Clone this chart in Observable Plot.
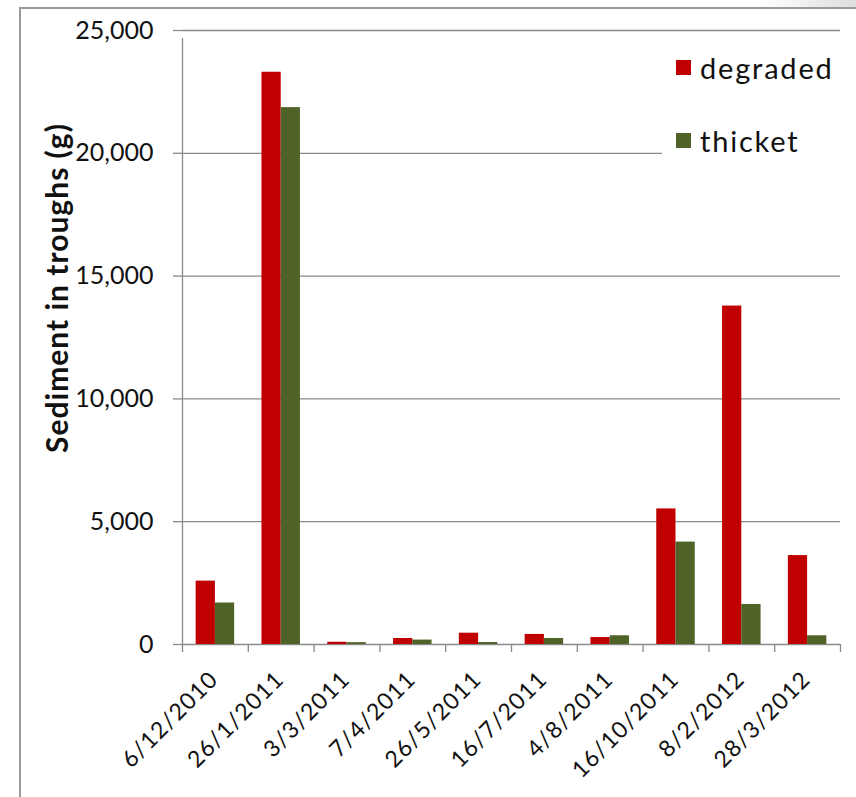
<!DOCTYPE html>
<html>
<head>
<meta charset="utf-8">
<script src="https://cdn.jsdelivr.net/npm/d3@7"></script>
<script src="https://cdn.jsdelivr.net/npm/@observablehq/plot@0.6"></script>
<style>
  html, body { margin: 0; padding: 0; background: #fff; }
  #wrap { position: relative; width: 856px; height: 797px; overflow: hidden; font-family: Lato, "Open Sans", sans-serif; color: #111; }
  #wrap svg { position: absolute; left: 0; top: 0; background: transparent; }
  .border { position: absolute; left: 19px; top: 7px; right: -10px; bottom: -10px; border-left: 2px solid #9a9a9a; border-top: 2px solid #9a9a9a; pointer-events: none; }
  .shade { position: absolute; left: 760px; top: 0; width: 96px; height: 7px; background: linear-gradient(to right, rgba(200,200,200,0), rgba(200,200,200,0.6)); }
  .legend { position: absolute; left: 662px; top: 42px; width: 178px; height: 128px; background: #fff; }
  .legend .item { position: absolute; left: 14px; display: flex; align-items: center; font-size: 29px; letter-spacing: 1.8px; line-height: 1; }
  .legend .sw { width: 15px; height: 15px; margin-right: 9px; }
  .ytitle { position: absolute; left: 56px; top: 288px; transform: translate(-50%, -50%) rotate(-90deg); font-weight: 700; font-size: 30px; letter-spacing: 1px; white-space: nowrap; }
</style>
</head>
<body>
<div id="wrap"></div>
<script>
// Sediment collected in troughs on each sampling date (grams)
const categories = ["6/12/2010", "26/1/2011", "3/3/2011", "7/4/2011", "26/5/2011", "16/7/2011", "4/8/2011", "16/10/2011", "8/2/2012", "28/3/2012"];
const degraded = [2580, 23300, 90, 245, 460, 410, 285, 5520, 13780, 3620];
const thicket = [1690, 21860, 75, 180, 80, 245, 355, 4170, 1630, 355];
const seriesNames = ["degraded", "thicket"];
const seriesColors = ["#c00000", "#4f6228"];
const yTicks = [0, 5000, 10000, 15000, 20000, 25000];

const W = 856, H = 797;
const mLeft = 182, mRight = 16, mTop = 30, mBottom = 153;
const step = (W - mLeft - mRight) / categories.length;
const padInner = 0.415;
const half = step * (1 - padInner) / 2;

const rowsDegraded = categories.map((c, i) => ({date: c, value: degraded[i]}));
const rowsThicket = categories.map((c, i) => ({date: c, value: thicket[i]}));
const fmt = d3.format(",");
const grey = "#8a8a8a";

const chart = Plot.plot({
  width: W,
  height: H,
  marginLeft: mLeft,
  marginRight: mRight,
  marginTop: mTop,
  marginBottom: mBottom,
  style: {fontFamily: "Lato, 'Open Sans', sans-serif", color: "#111", background: "transparent"},
  x: {type: "band", domain: categories, paddingInner: padInner, paddingOuter: padInner / 2, round: false},
  y: {domain: [0, 25000]},
  marks: [
    // horizontal gridlines
    Plot.ruleY(yTicks, {stroke: grey, strokeWidth: 1.3}),
    // bars: degraded on the left half of each group, thicket on the right
    Plot.barY(rowsDegraded, {x: "date", y: "value", fill: seriesColors[0], insetRight: half}),
    Plot.barY(rowsThicket, {x: "date", y: "value", fill: seriesColors[1], insetLeft: half}),
    // category boundary ticks below the baseline
    Plot.ruleX(categories, {x: d => d, y1: 0, y2: 0, insetBottom: -8, dx: -step / 2, stroke: grey, strokeWidth: 1.3}),
    Plot.ruleX(categories.slice(-1), {x: d => d, y1: 0, y2: 0, insetBottom: -8, dx: step / 2, stroke: grey, strokeWidth: 1.3}),
    // vertical value axis line
    Plot.ruleX(categories.slice(0, 1), {x: d => d, y1: 0, y2: 25000, insetBottom: -8, dx: -step / 2, stroke: grey, strokeWidth: 1.3}),
    Plot.axisY(yTicks, {tickFormat: fmt, tickSize: 9, tickPadding: 20, stroke: grey, strokeWidth: 1.3, fontSize: 25, label: null}),
    Plot.axisX({tickRotate: -45, tickSize: 0, tickPadding: 14, fontSize: 23, dx: -1, dy: 17, label: null})
  ]
});

// wider tracking for the rotated date labels
d3.select(chart).selectAll('g[aria-label="x-axis tick label"] text').style("letter-spacing", "1.2px");

const wrap = document.getElementById("wrap");
wrap.appendChild(chart);

const shade = document.createElement("div");
shade.className = "shade";
wrap.appendChild(shade);
const border = document.createElement("div");
border.className = "border";
wrap.appendChild(border);

const title = document.createElement("div");
title.className = "ytitle";
title.textContent = "Sediment in troughs (g)";
wrap.appendChild(title);

const legend = document.createElement("div");
legend.className = "legend";
seriesNames.forEach((name, i) => {
  const item = document.createElement("div");
  item.className = "item";
  item.style.top = (11 + i * 73) + "px";
  const sw = document.createElement("span");
  sw.className = "sw";
  sw.style.background = seriesColors[i];
  const label = document.createElement("span");
  label.textContent = name;
  item.appendChild(sw);
  item.appendChild(label);
  legend.appendChild(item);
});
wrap.appendChild(legend);
</script>
</body>
</html>
